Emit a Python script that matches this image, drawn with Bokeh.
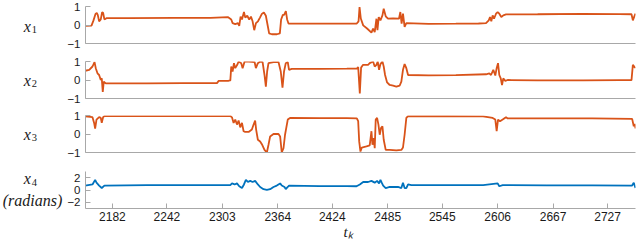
from bokeh.plotting import figure
from bokeh.layouts import column, row
from bokeh.models import Range1d, FixedTicker, Title
from bokeh.core.properties import value
from bokeh.embed import file_html
from bokeh.resources import INLINE

# ---------------- data ----------------
x_tick_labels = [2182, 2242, 2303, 2364, 2424, 2485, 2545, 2606, 2667, 2727]
t_start, t_end = 2152.4, 2757.7

x1_t = [2152.1, 2159.0, 2161.2, 2163.4, 2164.8, 2165.9, 2167.4, 2169.2, 2170.7, 2171.8, 2173.2, 2175.4,
        2200, 2250, 2290, 2309, 2312.8, 2314.3, 2317.2, 2320.2, 2321.6, 2323.1, 2324.6, 2326.8, 2328.2,
        2330.4, 2332.6, 2334.5, 2336.3, 2338.1, 2340.0, 2342.2, 2344.4, 2346.5, 2348.7, 2350.9, 2352.8,
        2354.5, 2357.5, 2363.0, 2366.3, 2367.7, 2369.6, 2371.0, 2372.9, 2374.3, 2375.9, 2410, 2450.7,
        2452.9, 2454.0, 2455.4, 2458.0, 2462.3, 2467.1, 2468.9, 2470.7, 2472.6, 2473.7, 2475.1, 2477.0,
        2479.2, 2480.6, 2482.8, 2485.3, 2490.9, 2497.4, 2498.9, 2500.3, 2501.8, 2503.6, 2505.5, 2530,
        2560, 2585, 2593.2, 2596.2, 2597.6, 2599.0, 2600.5, 2602.0, 2604.2, 2606.0, 2607.8, 2610.0,
        2612.2, 2615.2, 2650, 2700, 2740, 2753.3, 2754.8, 2756.3, 2757.7]
x1_v = [-0.05, -0.03, 0.25, 0.6, 0.65, 0.55, 0.2, 0.3, 0.7, 0.65, 0.3, 0.37,
        0.37, 0.38, 0.39, 0.43, 0.3, 0.1, 0.05, 0.1, -0.05, 0.45, 0.3, 0.7, 0.4,
        0.5, 0.3, 0.45, 0.2, -0.28, 0.1, 0.2, 0.4, 0.6, 0.68, 0.5, 0.0,
        -0.45, -0.5, -0.5, -0.45, 0.3, 0.55, 0.55, 0.75, 0.3, 0.07, 0.07, 0.07,
        0.2, 0.97, 0.35, -0.02, -0.19, -0.41, -0.19, -0.38, 0.34, -0.28, 0.43, 0.25,
        0.52, 0.88, 0.47, 0.34, 0.36, 0.34, 0.7, 0.07, 0.61, -0.1, 0.1, 0.06,
        0.07, 0.08, 0.1, 0.25, 0.43, 0.2, 0.52, 0.34, 0.61, 0.7, 0.61, 0.43,
        0.52, 0.57, 0.58, 0.6, 0.59, 0.58, 0.25, 0.45, 0.62]

x2_t = [2152.1, 2156.5, 2160.1, 2162.3, 2163.7, 2165.6, 2167.4, 2169.2, 2170.3, 2171.4, 2172.5, 2174.7,
        2220, 2260, 2297.1, 2299.0, 2310.0, 2311.8, 2312.8, 2314.3, 2315.8, 2317.2, 2319.4, 2320.9,
        2323.8, 2325.3, 2327.5, 2331.9, 2335.5, 2338.5, 2339.9, 2342.1, 2344.6, 2347.3, 2349.4, 2350.9,
        2352.3, 2353.8, 2359.3, 2364.8, 2367.3, 2369.2, 2370.9, 2372.8, 2375.0, 2376.4, 2379.4, 2410,
        2440, 2451.0, 2452.5, 2454.3, 2455.7, 2457.9, 2463.4, 2465.2, 2468.9, 2470.7, 2472.6, 2474.0,
        2475.5, 2477.0, 2479.2, 2480.6, 2482.1, 2484.3, 2487.2, 2490.9, 2494.5, 2498.1, 2500.0, 2501.8,
        2503.6, 2505.5, 2507.4, 2530, 2560, 2593.2, 2596.8, 2598.7, 2601.2, 2603.4, 2604.9, 2606.4,
        2607.8, 2609.4, 2610.8, 2612.2, 2614.4, 2617.0, 2650, 2700, 2740, 2753.3, 2754.8, 2757.0, 2757.7]
x2_v = [0.5, 0.55, 0.73, 0.97, 0.64, 0.36, 0.27, 0.0, 0.09, -0.64, -0.09, -0.18,
        -0.18, -0.17, -0.17, -0.05, -0.04, -0.02, 0.73, 0.46, 0.91, 0.64, 0.82, 1.0,
        0.91, 0.64, 1.0, 1.0, 0.98, 0.97, 0.64, 0.91, 1.0, 0.97, 0.27, -0.36,
        0.46, 0.91, 0.97, 0.97, 0.46, -0.42, 0.46, 0.91, 0.97, 0.55, 0.6, 0.6,
        0.61, 0.62, 0.7, -0.73, 0.67, 0.82, 0.82, 0.91, 1.0, 0.73, 0.82, 1.0,
        0.55, 0.86, 1.0, 0.73, 0.27, -0.13, -0.27, -0.31, -0.36, -0.31, -0.09, 0.55,
        0.86, 0.64, 0.27, 0.25, 0.26, 0.31, 0.36, 0.27, 0.55, 0.24, 0.64, 0.91,
        0.27, 0.09, -0.27, 0.09, -0.05, 0.0, -0.02, -0.02, -0.01, -0.01, 0.82, 0.67, 0.7]

x3_t = [2152.1, 2160.1, 2161.9, 2163.0, 2164.5, 2167.4, 2169.2, 2170.3, 2171.8, 2173.2, 2220, 2270,
        2311.8, 2313.6, 2315.4, 2317.2, 2319.1, 2320.9, 2322.7, 2324.6, 2326.4, 2328.2, 2331.9, 2335.5,
        2337.4, 2339.1, 2340.2, 2342.1, 2344.6, 2346.5, 2349.4, 2352.0, 2353.8, 2355.6, 2359.3, 2364.8,
        2366.6, 2368.4, 2370.3, 2372.0, 2375.0, 2377.5, 2410, 2440, 2451.0, 2452.5, 2453.6, 2455.0,
        2456.5, 2461.6, 2465.2, 2467.1, 2468.2, 2469.6, 2470.7, 2471.8, 2473.3, 2474.8, 2476.2, 2477.7,
        2479.2, 2480.6, 2482.8, 2487.2, 2494.5, 2500.0, 2501.8, 2503.6, 2505.5, 2507.4, 2550, 2590,
        2600.5, 2603.4, 2604.9, 2606.4, 2608.6, 2611.5, 2615.2, 2617.0, 2660, 2710, 2754.0, 2755.8,
        2757.0, 2757.7]
x3_v = [0.95, 0.91, 0.6, 0.29, 0.78, 0.91, 0.87, 0.6, 0.91, 0.97, 0.97, 0.97,
        0.97, 0.9, 0.6, 0.78, 0.51, 0.73, 0.36, 0.6, 0.15, 0.11, 0.11, 0.24,
        0.51, 0.73, 0.24, -0.31, -0.4, -0.55, -0.86, -1.0, -0.58, -0.13, 0.0, 0.0,
        -0.13, -1.0, -0.77, -0.04, 0.78, 0.87, 0.86, 0.86, 0.85, 0.69, -0.4, -0.95,
        -0.73, -0.67, -0.62, 0.15, -0.58, -0.22, -0.77, 0.78, 0.87, 0.51, -0.04, 0.33,
        0.42, -0.31, -0.86, -0.86, -0.89, -0.86, -0.73, -0.04, 0.87, 0.97, 0.96, 0.95,
        0.87, 0.78, 0.15, 0.78, 0.69, 0.78, 0.91, 0.84, 0.84, 0.84, 0.82, 0.42,
        0.55, 0.3]

x4_t = [2152.1, 2160.1, 2163.0, 2164.5, 2167.4, 2170.3, 2173.2, 2220, 2270, 2311.8, 2313.6, 2316.5,
        2319.1, 2321.6, 2324.6, 2326.8, 2328.9, 2331.1, 2333.7, 2336.3, 2339.1, 2342.1, 2344.6, 2348.3,
        2352.0, 2355.6, 2359.3, 2362.9, 2366.6, 2368.4, 2371.4, 2372.8, 2375.0, 2376.4, 2410, 2440,
        2450.7, 2454.3, 2458.0, 2463.4, 2467.1, 2470.7, 2473.3, 2475.5, 2477.0, 2478.4, 2480.0, 2482.8,
        2487.2, 2496.4, 2500.0, 2501.8, 2503.6, 2505.5, 2507.4, 2511.0, 2550, 2590, 2606.0, 2607.8,
        2611.5, 2660, 2710, 2754.0, 2755.8, 2757.7]
x4_v = [0.72, 0.9, 1.65, 1.19, 0.72, 0.32, 0.72, 0.78, 0.78, 0.8, 1.07, 0.9,
        1.07, 0.61, 0.32, 0.9, 1.65, 1.3, 1.48, 1.3, 1.48, 0.9, 0.49, 0.14,
        0.03, 0.14, 0.49, 0.72, 1.07, 0.72, 0.49, 0.14, 0.49, 0.72, 0.62, 0.62,
        0.61, 0.9, 1.3, 1.3, 1.48, 1.19, 1.48, 1.07, 1.65, 1.19, 0.72, 0.32,
        0.49, 0.49, 0.32, 1.19, 0.32, 0.32, 0.9, 0.78, 0.78, 0.78, 1.07, 0.61,
        0.78, 0.76, 0.76, 0.72, 1.19, 0.32]

panel_subs = ["1", "2", "3", "4"]
panels = [
    dict(t=x1_t, v=x1_v, color="#D95319", yr=(-1, 1), yt=[-1, 0, 1]),
    dict(t=x2_t, v=x2_v, color="#D95319", yr=(-1, 1), yt=[-1, 0, 1]),
    dict(t=x3_t, v=x3_v, color="#D95319", yr=(-1, 1), yt=[-1, 0, 1]),
    dict(t=x4_t, v=x4_v, color="#0072BD", yr=(-3, 3), yt=[-2, 0, 2]),
]

# ---------------- layout ----------------
LABEL_W = 64
PW = 576
heights = [52, 54, 55, 79]
tops = [6, 9, 9, 10]
bottoms = [9, 8, 9, 32]
AX = "#a8a8a8"
TXT = "#1a1a1a"
SERIF = "Liberation Serif"
SANS = "Liberation Sans"


def bare(p):
    p.xgrid.visible = False
    p.ygrid.visible = False
    p.outline_line_color = None
    p.background_fill_color = "white"
    p.border_fill_color = "white"


x_range = Range1d(t_start, t_end)
figs = []
for i, pd_ in enumerate(panels):
    last = i == len(panels) - 1
    p = figure(width=PW, height=heights[i], x_range=x_range,
               y_range=Range1d(*pd_["yr"]), output_backend="svg",
               toolbar_location=None, title=None,
               min_border_left=19, min_border_right=5,
               min_border_top=tops[i], min_border_bottom=bottoms[i])
    p.line(pd_["t"], pd_["v"], line_color=pd_["color"], line_width=1.8)
    bare(p)

    ya = p.yaxis[0]
    ya.ticker = FixedTicker(ticks=pd_["yt"])
    ya.major_tick_in = 5
    ya.major_tick_out = 0
    ya.minor_tick_line_color = None
    ya.axis_line_color = AX
    ya.major_tick_line_color = AX
    ya.major_label_text_font = SANS
    ya.major_label_text_font_size = "11.5px"
    ya.major_label_text_color = TXT
    ya.major_label_standoff = 5

    xa = p.xaxis[0]
    xa.axis_line_color = AX
    xa.minor_tick_line_color = None
    if last:
        xa.ticker = FixedTicker(ticks=x_tick_labels)
        xa.major_tick_in = 5
        xa.major_tick_out = 0
        xa.major_tick_line_color = AX
        xa.major_label_text_font = SANS
        xa.major_label_text_font_size = "12px"
        xa.major_label_text_color = TXT
        xa.major_label_standoff = 3
        p.add_layout(Title(text="tₖ", align="left", offset=258, standoff=-3,
                           text_font=SERIF, text_font_style="italic",
                           text_font_size="15px", text_color=TXT), "below")
    else:
        xa.ticker = FixedTicker(ticks=[])
        xa.major_tick_in = 0
        xa.major_tick_out = 0
        xa.major_tick_line_color = None
        xa.major_label_text_font_size = "0px"
        xa.major_label_standoff = 0
    figs.append(p)

# left label strip (pixel coordinates, top-down)
TOTAL_H = sum(heights)
lab = figure(width=LABEL_W, height=TOTAL_H, x_range=Range1d(0, LABEL_W),
             y_range=Range1d(TOTAL_H, 0), output_backend="svg", toolbar_location=None,
             title=None, x_axis_location=None, y_axis_location=None,
             min_border_left=0, min_border_right=0, min_border_top=0, min_border_bottom=0)
bare(lab)
x_main_y = [25.5, 79.5, 133.5, 178.3]
x_sub_y = [28.8, 82.5, 137.0, 182.2]
lab.text(x=[26.7] * 4, y=x_main_y, text=["x"] * 4, text_font=value(SERIF),
         text_font_style="italic", text_font_size="16px", text_color=TXT,
         text_align="center", text_baseline="middle")
lab.text(x=[33.8] * 4, y=x_sub_y, text=panel_subs, text_font=value(SERIF),
         text_font_size="10.5px", text_color=TXT, text_align="center", text_baseline="middle")
lab.text(x=[32.0], y=[199.5], text=["(radians)"], text_font=value(SERIF),
         text_font_style="italic", text_font_size="16px", text_color=TXT,
         text_align="center", text_baseline="middle")

layout = row(lab, column(*figs, spacing=0), spacing=0)
open("out.html", "w").write(file_html(layout, INLINE))
